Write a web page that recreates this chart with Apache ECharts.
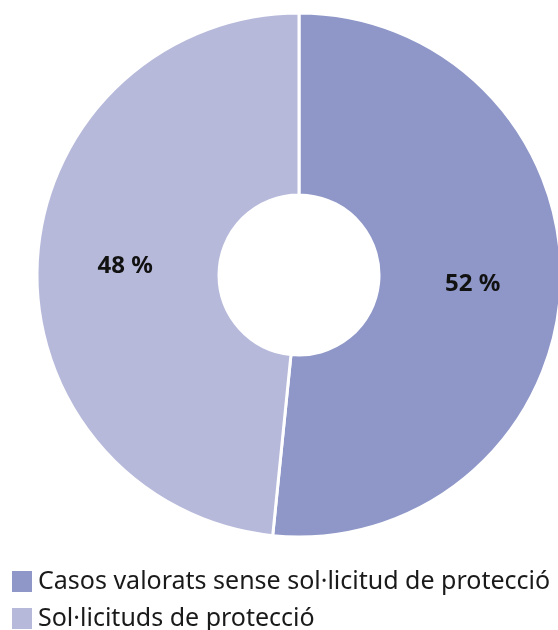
<!DOCTYPE html>
<html><head><meta charset="utf-8">
<script src="https://cdn.jsdelivr.net/npm/echarts@6/dist/echarts.min.js"></script>
<style>html,body{margin:0;padding:0;background:#fff}#c{width:558px;height:630px}</style>
</head><body><div id="c"></div>
<script>
const categories = ["Casos valorats sense sol·licitud de protecció", "Sol·licituds de protecció"];
const values = [51.6, 48.4];
const colors = ["#8e97c8", "#b6b9da"];
const legendTops = [569, 606];

const chart = echarts.init(document.getElementById('c'));
chart.setOption({
  animation: false,
  color: colors,
  legend: categories.map((c, i) => ({
    orient: 'vertical', left: 10, top: legendTops[i], padding: 0,
    itemWidth: 22, itemHeight: 23,
    icon: 'rect',
    textStyle: { fontFamily: 'Noto Sans', fontSize: 25, color: '#1a1a1a' },
    data: [c]
  })),
  series: [{
    type: 'pie',
    center: [299, 275],
    radius: [80, 262],
    startAngle: 90,
    clockwise: true,
    itemStyle: { borderColor: '#fff', borderWidth: 3 },
    label: { position: 'inside', formatter: p => Math.round(p.value) + ' %', fontFamily: 'Noto Sans', fontWeight: 'bold', fontSize: 24, color: '#111' },
    labelLine: { show: false },
    data: categories.map((n, i) => ({ name: n, value: values[i] }))
  }]
});
</script></body></html>
